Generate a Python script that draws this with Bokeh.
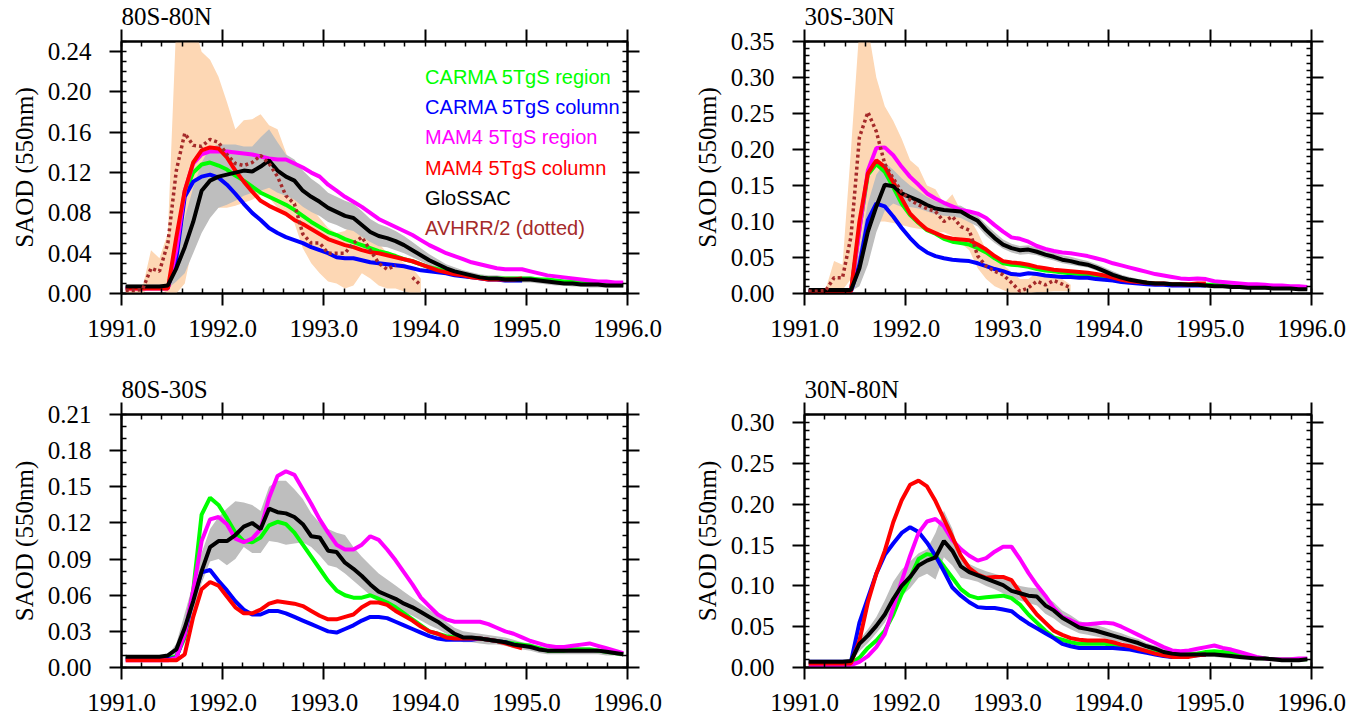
import numpy as np
from bokeh.plotting import figure
from bokeh.models import LinearAxis, SingleIntervalTicker, PrintfTickFormatter, Label, Range1d
from bokeh.layouts import column, row
from bokeh.embed import file_html
from bokeh.resources import INLINE

nan = float("nan")
# monthly (mid-month) time axis, Jan 1991 .. Dec 1995
months = np.arange(60)
t = 1991 + (months + 0.5) / 12.0

# ---------------- 80S-80N ----------------
p1_green = [0.006]*6 + [0.040, 0.100, 0.120, 0.128, 0.130, 0.127, 0.123, 0.117, 0.112, 0.106, 0.100, 0.096, 0.092, 0.088,
            0.083, 0.077, 0.071, 0.066, 0.061, 0.058, 0.054, 0.051, 0.048, 0.045, 0.042, 0.040, 0.037, 0.034, 0.032, 0.029,
            0.026, 0.024, 0.022, 0.020, 0.019, 0.017, 0.016, 0.015, 0.015, 0.015, 0.015, 0.015, 0.015, 0.014, 0.014, 0.013,
            0.012, 0.012, 0.011, 0.011, 0.010, 0.010, 0.009, 0.009]
p1_blue = [0.006]*6 + [0.035, 0.096, 0.111, 0.116, 0.118, 0.115, 0.108, 0.099, 0.089, 0.080, 0.073, 0.065, 0.060, 0.056,
           0.053, 0.050, 0.046, 0.043, 0.040, 0.036, 0.035, 0.035, 0.033, 0.031, 0.030, 0.029, 0.028, 0.027, 0.025, 0.023,
           0.022, 0.021, 0.020, 0.018, 0.017, 0.016, 0.015, 0.014, 0.014, 0.013, 0.013, 0.013]
p1_mag = [0.005]*6 + [0.043, 0.102, 0.129, 0.138, 0.141, 0.141, 0.141, 0.140, 0.139, 0.138, 0.136, 0.134, 0.133, 0.133,
          0.129, 0.125, 0.120, 0.116, 0.108, 0.102, 0.096, 0.091, 0.086, 0.080, 0.074, 0.070, 0.066, 0.062, 0.058, 0.053,
          0.048, 0.044, 0.040, 0.037, 0.034, 0.031, 0.029, 0.027, 0.025, 0.024, 0.024, 0.024, 0.022, 0.020, 0.018, 0.017,
          0.016, 0.015, 0.014, 0.013, 0.012, 0.012, 0.011, 0.011]
p1_red = [0.005]*6 + [0.056, 0.102, 0.130, 0.142, 0.145, 0.144, 0.135, 0.122, 0.111, 0.101, 0.092, 0.087, 0.083, 0.079,
          0.073, 0.069, 0.064, 0.059, 0.054, 0.051, 0.048, 0.046, 0.043, 0.041, 0.040, 0.038, 0.036, 0.034, 0.032, 0.029,
          0.026, 0.023, 0.021, 0.019, 0.018, 0.016, 0.015, 0.014, 0.014, 0.014, 0.014, 0.015]
p1_black = [0.007]*5 + [0.008, 0.025, 0.046, 0.071, 0.102, 0.112, 0.116, 0.118, 0.120, 0.122, 0.121, 0.126, 0.132, 0.122,
            0.116, 0.112, 0.102, 0.096, 0.091, 0.085, 0.081, 0.077, 0.075, 0.068, 0.061, 0.057, 0.055, 0.052, 0.048, 0.043,
            0.038, 0.033, 0.029, 0.025, 0.022, 0.020, 0.018, 0.016, 0.015, 0.015, 0.014, 0.014, 0.014, 0.014, 0.013, 0.012,
            0.011, 0.010, 0.010, 0.009, 0.009, 0.009, 0.008, 0.008, 0.008]
p1_black_lo = [0.005]*6 + [0.012, 0.020, 0.040, 0.060, 0.075, 0.085, 0.088, 0.092, 0.097, 0.100, 0.102, 0.105, 0.100, 0.097,
               0.093, 0.086, 0.081, 0.077, 0.071, 0.068, 0.064, 0.062, 0.056, 0.051, 0.047, 0.046, 0.043, 0.040, 0.036, 0.032,
               0.028, 0.025, 0.021, 0.019, 0.017, 0.015, 0.013, 0.012, 0.012, 0.011, 0.011, 0.011, 0.011, 0.010, 0.009, 0.008,
               0.008, 0.007, 0.007, 0.006, 0.006, 0.006, 0.006, 0.006]
p1_black_hi = [0.009]*6 + [0.040, 0.075, 0.105, 0.130, 0.145, 0.148, 0.148, 0.148, 0.146, 0.146, 0.155, 0.163, 0.150, 0.138,
               0.133, 0.122, 0.114, 0.108, 0.100, 0.096, 0.092, 0.089, 0.082, 0.074, 0.069, 0.066, 0.062, 0.057, 0.051, 0.045,
               0.039, 0.034, 0.029, 0.026, 0.023, 0.021, 0.019, 0.018, 0.018, 0.017, 0.017, 0.017, 0.017, 0.016, 0.015, 0.014,
               0.013, 0.013, 0.012, 0.012, 0.011, 0.010, 0.010, 0.010]
p1_avhrr = [0.003, 0.003, 0.004, 0.025, 0.022, 0.050, 0.122, 0.159, 0.147, 0.146, 0.153, 0.150, 0.138, 0.129, 0.127, 0.130,
            0.137, 0.129, 0.116, 0.097, 0.089, 0.059, 0.050, 0.050, 0.040, 0.040, 0.040, 0.050, 0.056, 0.043, 0.030, 0.024,
            0.028, nan, 0.016, 0.008]
p1_avhrr_lo = [0.0, 0.0, 0.0, 0.008, 0.005, 0.0, 0.0, 0.010, 0.050, 0.080, 0.090, 0.085, 0.085, 0.087, 0.090, 0.093, 0.098,
               0.095, 0.085, 0.078, 0.070, 0.045, 0.030, 0.020, 0.012, 0.010, 0.005, 0.008, 0.020, 0.015, 0.008, 0.005, 0.005,
               0.002, 0.0, 0.0]
p1_avhrr_hi = [0.004, 0.004, 0.006, 0.043, 0.035, 0.060, 0.270, 0.270, 0.270, 0.240, 0.232, 0.215, 0.190, 0.163, 0.172,
               0.173, 0.178, 0.167, 0.163, 0.140, 0.115, 0.100, 0.085, 0.075, 0.065, 0.060, 0.062, 0.070, 0.070, 0.060, 0.050,
               0.040, 0.040, 0.030, 0.025, 0.015]

# ---------------- 30S-30N ----------------
p2_green = [0.003]*6 + [0.090, 0.165, 0.180, 0.169, 0.148, 0.125, 0.109, 0.098, 0.088, 0.083, 0.076, 0.072, 0.070, 0.068,
            0.063, 0.057, 0.049, 0.042, 0.040, 0.039, 0.037, 0.034, 0.032, 0.031, 0.029, 0.028, 0.027, 0.026, 0.024, 0.022,
            0.020, 0.018, 0.017, 0.016, 0.015, 0.014, 0.013, 0.013, 0.013, 0.012, 0.012, 0.012, 0.012, 0.011, 0.011, 0.010,
            0.010, 0.010, 0.010, 0.009, 0.009, 0.009, 0.008, 0.008]
p2_blue = [0.003]*6 + [0.040, 0.102, 0.125, 0.121, 0.107, 0.091, 0.077, 0.065, 0.057, 0.052, 0.049, 0.047, 0.046, 0.045,
           0.042, 0.038, 0.034, 0.031, 0.027, 0.026, 0.028, 0.027, 0.025, 0.024, 0.023, 0.023, 0.022, 0.022, 0.020, 0.019,
           0.018, 0.016, 0.015, 0.014, 0.013, 0.012, 0.012, 0.011, 0.011, 0.011, 0.011, 0.011]
p2_mag = [0.003]*6 + [0.088, 0.171, 0.202, 0.203, 0.192, 0.176, 0.162, 0.151, 0.139, 0.132, 0.126, 0.121, 0.116, 0.114,
          0.111, 0.105, 0.095, 0.086, 0.078, 0.076, 0.072, 0.066, 0.062, 0.059, 0.057, 0.056, 0.054, 0.052, 0.049, 0.046,
          0.042, 0.039, 0.036, 0.033, 0.030, 0.027, 0.025, 0.023, 0.021, 0.020, 0.021, 0.020, 0.017, 0.016, 0.015, 0.014,
          0.013, 0.013, 0.012, 0.011, 0.011, 0.010, 0.010, 0.009]
p2_red = [0.003]*6 + [0.100, 0.167, 0.185, 0.176, 0.155, 0.132, 0.111, 0.099, 0.089, 0.084, 0.079, 0.076, 0.075, 0.074,
          0.068, 0.061, 0.052, 0.045, 0.043, 0.042, 0.040, 0.037, 0.035, 0.033, 0.032, 0.031, 0.030, 0.029, 0.027, 0.025,
          0.022, 0.019, 0.017, 0.016, 0.015, 0.014, 0.014, 0.013, 0.013, 0.013, 0.014, 0.014]
p2_black = [0.005]*6 + [0.035, 0.086, 0.121, 0.151, 0.149, 0.139, 0.134, 0.129, 0.123, 0.118, 0.116, 0.115, 0.114, 0.107,
            0.101, 0.088, 0.077, 0.068, 0.063, 0.060, 0.061, 0.058, 0.054, 0.051, 0.047, 0.045, 0.042, 0.040, 0.036, 0.031,
            0.026, 0.022, 0.019, 0.017, 0.015, 0.014, 0.014, 0.013, 0.013, 0.012, 0.012, 0.011, 0.010, 0.010, 0.009, 0.009,
            0.008, 0.008, 0.008, 0.007, 0.007, 0.007, 0.006, 0.006]
p2_black_lo = [0.003]*6 + [0.010, 0.040, 0.085, 0.115, 0.125, 0.120, 0.120, 0.118, 0.114, 0.110, 0.108, 0.107, 0.105, 0.099,
               0.093, 0.080, 0.070, 0.062, 0.057, 0.054, 0.055, 0.053, 0.049, 0.046, 0.042, 0.040, 0.038, 0.036, 0.032, 0.027,
               0.022, 0.019, 0.016, 0.014, 0.012, 0.011, 0.011, 0.010, 0.010, 0.009, 0.009, 0.009, 0.008, 0.008, 0.007, 0.007,
               0.006, 0.006, 0.006, 0.005, 0.005, 0.005, 0.004, 0.004]
p2_black_hi = [0.007]*6 + [0.060, 0.125, 0.165, 0.182, 0.172, 0.160, 0.150, 0.142, 0.134, 0.128, 0.125, 0.123, 0.122, 0.115,
               0.108, 0.096, 0.085, 0.075, 0.069, 0.066, 0.067, 0.064, 0.060, 0.057, 0.053, 0.051, 0.048, 0.045, 0.041, 0.036,
               0.031, 0.026, 0.023, 0.020, 0.018, 0.017, 0.017, 0.016, 0.016, 0.015, 0.015, 0.014, 0.013, 0.012, 0.011, 0.011,
               0.010, 0.010, 0.010, 0.009, 0.009, 0.009, 0.008, 0.008]
p2_avhrr = [0.003, 0.003, 0.004, 0.022, 0.022, 0.079, 0.217, 0.252, 0.225, 0.180, 0.160, 0.141, 0.130, 0.123, 0.118, 0.114,
            0.100, 0.107, 0.093, 0.088, 0.052, 0.038, 0.031, 0.026, 0.015, 0.003, 0.008, 0.017, 0.012, 0.018, 0.013, 0.008]
p2_avhrr_lo = [0.0, 0.0, 0.0, 0.005, 0.005, 0.020, 0.060, 0.100, 0.100, 0.100, 0.098, 0.095, 0.092, 0.090, 0.088, 0.085,
               0.085, 0.080, 0.070, 0.060, 0.035, 0.020, 0.010, 0.005, 0.0, 0.0, 0.0, 0.002, 0.002, 0.003, 0.003, 0.003]
p2_avhrr_hi = [0.005, 0.005, 0.006, 0.045, 0.040, 0.200, 0.370, 0.370, 0.300, 0.260, 0.240, 0.215, 0.185, 0.175, 0.150,
               0.145, 0.125, 0.138, 0.115, 0.105, 0.085, 0.060, 0.045, 0.040, 0.030, 0.020, 0.020, 0.030, 0.025, 0.028,
               0.020, 0.012]

# ---------------- 80S-30S ----------------
p3_green = [0.008]*6 + [0.009, 0.025, 0.064, 0.127, 0.141, 0.135, 0.124, 0.112, 0.105, 0.104, 0.108, 0.118, 0.121, 0.119,
            0.112, 0.102, 0.092, 0.082, 0.072, 0.064, 0.060, 0.058, 0.058, 0.060, 0.057, 0.054, 0.050, 0.045, 0.040, 0.035,
            0.030, 0.028, 0.026, 0.025, 0.024, 0.024, 0.024, 0.023, 0.022, 0.021, 0.020, 0.019, 0.018, 0.016, 0.014, 0.014,
            0.014, 0.015, 0.015, 0.015, 0.014, 0.013, 0.012, 0.011]
p3_blue = [0.007]*6 + [0.008, 0.028, 0.058, 0.079, 0.081, 0.072, 0.064, 0.055, 0.048, 0.044, 0.044, 0.047, 0.047, 0.045,
           0.042, 0.039, 0.036, 0.033, 0.030, 0.029, 0.032, 0.035, 0.039, 0.042, 0.042, 0.041, 0.038, 0.035, 0.032, 0.029,
           0.026, 0.024, 0.023, 0.023, 0.023, 0.023, 0.024, 0.023, 0.022, 0.021, 0.019, 0.017]
p3_mag = [0.006]*6 + [0.008, 0.028, 0.064, 0.105, 0.123, 0.125, 0.119, 0.107, 0.104, 0.107, 0.115, 0.141, 0.159, 0.163,
          0.160, 0.148, 0.136, 0.123, 0.112, 0.102, 0.098, 0.098, 0.102, 0.109, 0.106, 0.098, 0.089, 0.079, 0.069, 0.058,
          0.051, 0.044, 0.040, 0.038, 0.038, 0.038, 0.038, 0.036, 0.033, 0.030, 0.028, 0.025, 0.022, 0.020, 0.018, 0.017,
          0.017, 0.018, 0.019, 0.020, 0.018, 0.016, 0.014, 0.012]
p3_red = [0.006]*6 + [0.006, 0.011, 0.042, 0.065, 0.071, 0.068, 0.059, 0.050, 0.045, 0.045, 0.048, 0.053, 0.055, 0.054,
          0.053, 0.051, 0.047, 0.043, 0.040, 0.040, 0.042, 0.044, 0.050, 0.054, 0.054, 0.052, 0.047, 0.043, 0.039, 0.034,
          0.030, 0.028, 0.025, 0.024, 0.024, 0.024, 0.024, 0.023, 0.022, 0.020, 0.018, 0.016]
p3_black = [0.009]*5 + [0.010, 0.015, 0.033, 0.055, 0.080, 0.100, 0.105, 0.105, 0.110, 0.117, 0.120, 0.115, 0.132, 0.129,
            0.128, 0.125, 0.119, 0.109, 0.108, 0.097, 0.096, 0.087, 0.082, 0.076, 0.069, 0.063, 0.060, 0.057, 0.053, 0.050,
            0.046, 0.042, 0.038, 0.033, 0.028, 0.025, 0.025, 0.024, 0.023, 0.022, 0.021, 0.019, 0.018, 0.017, 0.015, 0.014,
            0.014, 0.014, 0.014, 0.014, 0.014, 0.014, 0.013, 0.012, 0.011]
p3_black_lo = [0.007]*6 + [0.010, 0.022, 0.042, 0.070, 0.088, 0.090, 0.085, 0.090, 0.100, 0.095, 0.095, 0.105, 0.104, 0.102,
               0.103, 0.104, 0.100, 0.093, 0.085, 0.083, 0.078, 0.072, 0.066, 0.060, 0.055, 0.052, 0.049, 0.046, 0.043, 0.039,
               0.035, 0.032, 0.028, 0.024, 0.021, 0.021, 0.020, 0.019, 0.019, 0.018, 0.016, 0.015, 0.014, 0.012, 0.011, 0.011,
               0.011, 0.011, 0.011, 0.011, 0.011, 0.010, 0.010, 0.009]
p3_black_hi = [0.010]*6 + [0.020, 0.045, 0.070, 0.095, 0.115, 0.125, 0.132, 0.138, 0.137, 0.135, 0.130, 0.150, 0.155, 0.155,
               0.148, 0.140, 0.128, 0.120, 0.115, 0.112, 0.110, 0.100, 0.092, 0.085, 0.078, 0.073, 0.068, 0.063, 0.058, 0.053,
               0.048, 0.043, 0.038, 0.033, 0.030, 0.029, 0.028, 0.027, 0.026, 0.025, 0.023, 0.021, 0.020, 0.018, 0.017, 0.017,
               0.017, 0.017, 0.017, 0.017, 0.016, 0.015, 0.014, 0.013]

# ---------------- 30N-80N ----------------
p4_green = [0.005]*6 + [0.012, 0.024, 0.033, 0.045, 0.065, 0.090, 0.110, 0.133, 0.139, 0.137, 0.124, 0.110, 0.096, 0.088,
            0.085, 0.086, 0.087, 0.088, 0.085, 0.077, 0.065, 0.055, 0.045, 0.037, 0.034, 0.031, 0.029, 0.029, 0.029, 0.029,
            0.028, 0.026, 0.024, 0.022, 0.020, 0.018, 0.016, 0.016, 0.016, 0.016, 0.017, 0.019, 0.020, 0.019, 0.018, 0.016,
            0.014, 0.012, 0.011, 0.010, 0.010, 0.010, 0.010, 0.010]
p4_blue = [0.007]*6 + [0.055, 0.085, 0.115, 0.138, 0.152, 0.165, 0.172, 0.166, 0.153, 0.137, 0.118, 0.098, 0.088, 0.080,
           0.074, 0.073, 0.073, 0.071, 0.069, 0.061, 0.054, 0.048, 0.042, 0.036, 0.029, 0.026, 0.024, 0.024, 0.024, 0.024,
           0.024, 0.023, 0.022, 0.020, 0.018, 0.016, 0.014, 0.013, 0.013, 0.014, 0.015, 0.016]
p4_mag = [0.003]*6 + [0.007, 0.014, 0.025, 0.041, 0.073, 0.106, 0.137, 0.165, 0.179, 0.182, 0.173, 0.156, 0.145, 0.137,
          0.131, 0.134, 0.142, 0.148, 0.148, 0.133, 0.116, 0.101, 0.088, 0.073, 0.062, 0.058, 0.053, 0.053, 0.054, 0.055,
          0.054, 0.050, 0.045, 0.040, 0.035, 0.030, 0.025, 0.021, 0.020, 0.021, 0.023, 0.025, 0.027, 0.024, 0.022, 0.019,
          0.016, 0.013, 0.011, 0.010, 0.010, 0.010, 0.011, 0.011]
p4_red = [0.005]*6 + [0.033, 0.080, 0.115, 0.143, 0.178, 0.205, 0.224, 0.229, 0.222, 0.204, 0.182, 0.160, 0.137, 0.122,
          0.114, 0.110, 0.111, 0.111, 0.107, 0.092, 0.078, 0.065, 0.055, 0.045, 0.040, 0.036, 0.034, 0.033, 0.033, 0.033,
          0.031, 0.028, 0.026, 0.023, 0.020, 0.017, 0.015, 0.013, 0.013, 0.013, 0.015, 0.016]
p4_black = [0.007]*5 + [0.008, 0.029, 0.039, 0.051, 0.065, 0.084, 0.100, 0.111, 0.125, 0.131, 0.135, 0.155, 0.143, 0.124,
            0.117, 0.113, 0.109, 0.105, 0.101, 0.094, 0.091, 0.088, 0.087, 0.076, 0.070, 0.061, 0.055, 0.049, 0.047, 0.045,
            0.042, 0.039, 0.036, 0.033, 0.030, 0.026, 0.023, 0.019, 0.017, 0.016, 0.016, 0.016, 0.016, 0.016, 0.015, 0.014,
            0.013, 0.012, 0.011, 0.011, 0.010, 0.009, 0.009, 0.009, 0.010]
p4_black_lo = [0.006]*6 + [0.020, 0.030, 0.042, 0.055, 0.075, 0.088, 0.097, 0.110, 0.115, 0.108, 0.135, 0.125, 0.110, 0.108,
               0.105, 0.100, 0.096, 0.091, 0.085, 0.082, 0.079, 0.076, 0.066, 0.060, 0.052, 0.047, 0.042, 0.040, 0.038, 0.036,
               0.033, 0.031, 0.028, 0.025, 0.022, 0.019, 0.016, 0.014, 0.013, 0.013, 0.013, 0.013, 0.013, 0.012, 0.011, 0.010,
               0.010, 0.009, 0.009, 0.008, 0.007, 0.007, 0.007, 0.008]
p4_black_hi = [0.009]*6 + [0.034, 0.047, 0.062, 0.082, 0.105, 0.120, 0.130, 0.140, 0.145, 0.165, 0.192, 0.170, 0.135, 0.127,
               0.122, 0.118, 0.115, 0.112, 0.105, 0.100, 0.098, 0.097, 0.087, 0.080, 0.070, 0.064, 0.057, 0.054, 0.052, 0.049,
               0.045, 0.042, 0.038, 0.035, 0.030, 0.027, 0.023, 0.021, 0.020, 0.020, 0.020, 0.020, 0.020, 0.019, 0.018, 0.017,
               0.016, 0.014, 0.013, 0.012, 0.011, 0.011, 0.011, 0.012]

legend_texts = ["CARMA 5TgS region", "CARMA 5TgS column", "MAM4 5TgS region", "MAM4 5TgS column", "GloSSAC",
                "AVHRR/2 (dotted)"]
legend_colors = ["#00FF00", "#0000FF", "#FF00FF", "#FF0000", "#000000", "#A52A2A"]
legend_y = [0.215, 0.185, 0.155, 0.125, 0.095, 0.065]

SERIF = "Liberation Serif"


def style_axis(ax, labels, fmt=None, standoff=5):
    ax.axis_line_width = 2
    ax.axis_line_color = "black"
    ax.major_tick_line_width = 2
    ax.major_tick_line_color = "black"
    ax.minor_tick_line_width = 1.5
    ax.minor_tick_line_color = "black"
    ax.major_tick_out = 12
    ax.major_tick_in = 0
    ax.minor_tick_out = 0
    ax.minor_tick_in = 5
    ax.major_label_text_font = SERIF
    ax.major_label_text_font_style = "normal"
    if labels:
        ax.major_label_text_font_size = "25px"
        ax.major_label_text_color = "black"
        ax.major_label_standoff = standoff
        if fmt:
            ax.formatter = PrintfTickFormatter(format=fmt)
    else:
        # ticks only: labels are not painted
        ax.major_label_text_font_size = "0px"
        ax.major_label_text_color = None
        ax.major_label_standoff = 0


def make_panel(title, ymax, ystep, yminor, green, blue, mag, red, black, klo, khi,
               width, left, right, top, bottom, avhrr=None, alo=None, ahi=None, legend=False):
    p = figure(width=width, height=360, x_range=Range1d(1991, 1996), y_range=Range1d(0, ymax + 1e-4),
               output_backend="svg", toolbar_location=None,
               min_border_left=left, min_border_right=right, min_border_top=top, min_border_bottom=bottom)
    p.xgrid.visible = False
    p.ygrid.visible = False
    p.outline_line_color = "black"
    p.outline_line_width = 2
    p.background_fill_color = "white"
    p.border_fill_color = "white"

    p.title.text = title
    p.title.text_font = SERIF
    p.title.text_font_size = "25px"
    p.title.text_font_style = "normal"
    p.title.text_color = "black"
    p.title.align = "left"
    p.title.offset = 0
    p.title.standoff = 0

    n_col = len(blue)
    if avhrr is not None:
        na = len(alo)
        p.varea(x=t[:na], y1=alo, y2=ahi, fill_color="#FDD7B4", fill_alpha=1.0)
    p.varea(x=t, y1=klo, y2=khi, fill_color="#BEBEBE", fill_alpha=1.0)
    p.line(t, green, line_color="#00FF00", line_width=4)
    p.line(t[:n_col], blue, line_color="#0000FF", line_width=4)
    p.line(t, mag, line_color="#FF00FF", line_width=4)
    p.line(t[:n_col], red, line_color="#FF0000", line_width=4)
    p.line(t, black, line_color="#000000", line_width=4)
    if avhrr is not None:
        p.line(t[:len(avhrr)], avhrr, line_color="#A52A2A", line_width=3.5, line_dash="3 3")

    p.xaxis.ticker = SingleIntervalTicker(interval=1, num_minor_ticks=5)
    p.yaxis.ticker = SingleIntervalTicker(interval=ystep, num_minor_ticks=yminor)
    for ax in p.xaxis:
        style_axis(ax, True, "%.1f", standoff=14)
    for ax in p.yaxis:
        style_axis(ax, True, "%.2f", standoff=18)
        ax.axis_label = "SAOD (550nm)"
        ax.axis_label_text_font = SERIF
        ax.axis_label_text_font_style = "normal"
        ax.axis_label_text_font_size = "25px"
        ax.axis_label_text_color = "black"
        ax.axis_label_standoff = 7
    top_ax = LinearAxis(ticker=SingleIntervalTicker(interval=1, num_minor_ticks=5))
    style_axis(top_ax, False)
    p.add_layout(top_ax, "above")
    right_ax = LinearAxis(ticker=SingleIntervalTicker(interval=ystep, num_minor_ticks=yminor))
    style_axis(right_ax, False)
    p.add_layout(right_ax, "right")

    if legend:
        for txt, col, yy in zip(legend_texts, legend_colors, legend_y):
            p.add_layout(Label(x=1994.0, y=yy, x_units="data", y_units="data", text=txt,
                               text_font="Liberation Sans", text_font_size="20px",
                               text_baseline="alphabetic", text_color=col))
    return p


p1 = make_panel("80S-80N", 0.25, 0.04, 4, p1_green, p1_blue, p1_mag, p1_red, p1_black, p1_black_lo, p1_black_hi,
                680, 121, 53, 41, 67, p1_avhrr, p1_avhrr_lo, p1_avhrr_hi, legend=True)
p2 = make_panel("30S-30N", 0.35, 0.05, 5, p2_green, p2_blue, p2_mag, p2_red, p2_black, p2_black_lo, p2_black_hi,
                683, 124, 52, 41, 67, p2_avhrr, p2_avhrr_lo, p2_avhrr_hi)
p3 = make_panel("80S-30S", 0.21, 0.03, 3, p3_green, p3_blue, p3_mag, p3_red, p3_black, p3_black_lo, p3_black_hi,
                680, 121, 53, 54, 53)
p4 = make_panel("30N-80N", 0.31, 0.05, 5, p4_green, p4_blue, p4_mag, p4_red, p4_black, p4_black_lo, p4_black_hi,
                683, 124, 52, 54, 53)

layout = column(row(p1, p2), row(p3, p4))
open("out.html", "w").write(file_html(layout, INLINE))
